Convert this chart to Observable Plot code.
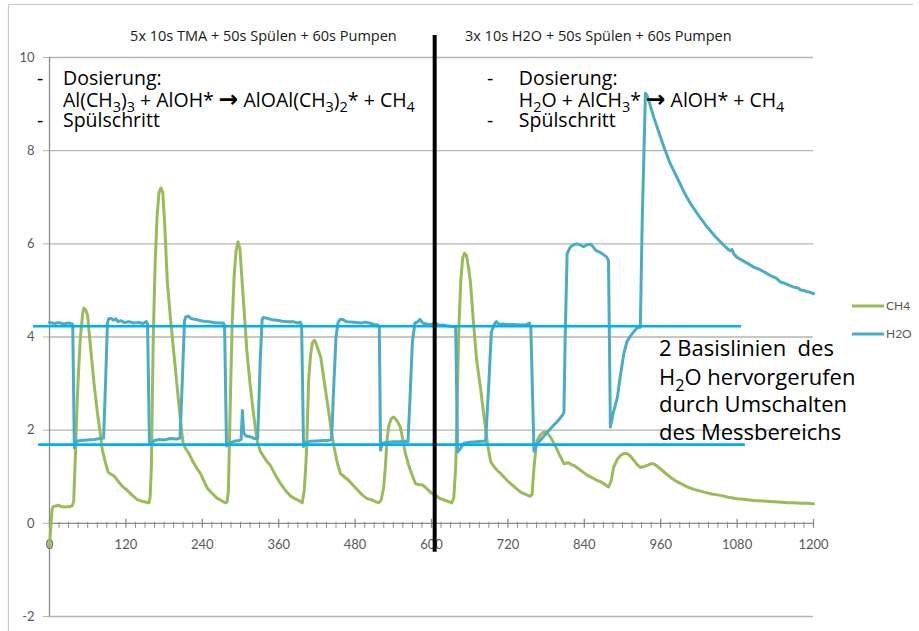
<!DOCTYPE html>
<html>
<head>
<meta charset="utf-8">
<script src="https://cdn.jsdelivr.net/npm/d3@7"></script>
<script src="https://cdn.jsdelivr.net/npm/@observablehq/plot@0.6"></script>
<style>
  html, body { margin: 0; padding: 0; background: #fff; }
  #chart svg { display: block; }
</style>
</head>
<body>
<div id="chart"></div>
<script>
// CH4 signal (time in s, signal in a.u.)
const ch4Time = [0, 2, 4, 6, 10, 14, 18, 25, 32, 36, 38, 40, 44, 48, 52, 54, 57, 60, 65, 70, 75, 80, 83, 88, 92, 96, 101, 107, 114, 122, 130, 138, 146, 156,
  158, 160, 163, 166, 169, 172, 175, 178, 181, 185, 190, 195, 200, 205, 210, 215, 219, 225, 232, 237, 242, 248, 255, 263, 270, 276,
  279, 281, 283, 285, 287, 290, 293, 296, 299, 302, 306, 310, 315, 320, 326, 331, 337, 342, 347, 355, 363, 371, 379, 387, 394, 397,
  400, 402, 404, 407, 410, 413, 416, 419, 426, 432, 439, 443, 447, 452, 457, 463, 470, 478, 485, 492, 499, 507, 513, 517,
  521, 525, 528, 530, 533, 537, 541, 546, 551, 555, 559, 564, 570, 575, 580, 585, 590, 598, 606, 614, 622, 628, 632,
  635, 638, 641, 643, 646, 649, 652, 655, 658, 661, 666, 671, 677, 682, 688, 693, 698, 703, 710, 719, 726, 733, 740, 748, 755,
  758, 761, 764, 766, 770, 775, 779, 783, 787, 793, 800, 808, 815, 820, 824, 832, 838, 845, 852, 859, 866, 872, 878,
  882, 886, 892, 898, 903, 907, 912, 918, 923, 928, 934, 940, 945, 949, 955, 962, 968, 975, 985, 995, 1002, 1012, 1020, 1028,
  1040, 1054, 1066, 1080, 1093, 1106, 1120, 1132, 1145, 1159, 1170, 1180, 1190, 1200];
const ch4Values = [-0.5, -0.1, 0.3, 0.36, 0.37, 0.39, 0.36, 0.35, 0.36, 0.38, 0.47, 1.2, 2.8, 3.9, 4.5, 4.62, 4.58, 4.45, 3.7, 3.0, 2.4, 1.9, 1.57, 1.3, 1.1, 1.06, 1.02, 0.92, 0.8, 0.71, 0.6, 0.51, 0.47, 0.44,
  0.55, 1.2, 4.0, 5.6, 6.6, 7.1, 7.2, 7.1, 6.4, 5.2, 4.4, 3.7, 3.0, 2.3, 1.7, 1.58, 1.5, 1.33, 1.17, 1.07, 0.92, 0.75, 0.65, 0.54, 0.49, 0.44,
  0.46, 0.7, 2.0, 3.2, 4.3, 5.3, 5.85, 6.04, 5.9, 5.3, 4.5, 3.7, 3.0, 2.4, 1.78, 1.55, 1.42, 1.32, 1.24, 1.03, 0.85, 0.7, 0.58, 0.52, 0.47, 0.44,
  0.7, 1.1, 1.64, 3.07, 3.6, 3.88, 3.93, 3.85, 3.57, 3.0, 2.35, 1.95, 1.64, 1.3, 1.07, 1.0, 0.92, 0.8, 0.7, 0.6, 0.53, 0.5, 0.46, 0.44,
  0.5, 0.78, 1.3, 1.78, 2.1, 2.25, 2.28, 2.2, 2.07, 1.8, 1.5, 1.25, 1.02, 0.85, 0.83, 0.83, 0.78, 0.67, 0.6, 0.53, 0.49, 0.46, 0.44,
  0.55, 1.2, 3.0, 4.2, 5.2, 5.7, 5.8, 5.75, 5.5, 5.2, 4.3, 3.5, 2.9, 2.35, 1.7, 1.32, 1.22, 1.14, 1.05, 0.92, 0.83, 0.75, 0.67, 0.62, 0.58,
  0.62, 1.2, 1.6, 1.78, 1.88, 1.95, 1.96, 1.92, 1.85, 1.7, 1.5, 1.28, 1.3, 1.26, 1.24, 1.16, 1.1, 1.03, 0.98, 0.93, 0.89, 0.84, 0.78,
  0.9, 1.2, 1.38, 1.47, 1.5, 1.5, 1.45, 1.35, 1.26, 1.2, 1.22, 1.25, 1.28, 1.28, 1.22, 1.14, 1.07, 0.99, 0.9, 0.83, 0.78, 0.73, 0.7, 0.67,
  0.63, 0.6, 0.56, 0.53, 0.51, 0.49, 0.48, 0.47, 0.46, 0.44, 0.44, 0.43, 0.43, 0.42];

// H2O signal
const h2oTime = [0, 8, 15, 22, 30, 36, 36.5, 39, 42, 50, 60, 70, 80, 85, 88, 91, 93, 97, 100, 104, 108, 112, 118, 125, 132, 140, 147, 152, 154,
  157, 160, 165, 172, 180, 190, 200, 205, 209, 212, 214, 218, 222, 228, 235, 242, 250, 258, 266, 273, 275,
  278, 282, 290, 298, 301, 303, 305, 308, 315, 322, 327, 331, 334, 336, 342, 350, 358, 366, 374, 382, 390, 394, 396,
  399, 403, 410, 420, 430, 438, 443, 446, 450, 453, 456, 460, 466, 474, 482, 490, 496, 502, 510, 516, 518,
  520, 523, 530, 540, 550, 558, 563, 566, 570, 574, 578, 582, 586, 592, 600, 606, 612, 618, 624, 630, 636, 638,
  641, 645, 651, 660, 670, 680, 685, 690, 694, 699, 702, 706, 712, 720, 730, 740, 750, 754, 756,
  761, 765, 771, 780, 790, 800, 806, 808, 810, 813, 818, 823, 829, 834, 839, 844, 850, 854, 858, 863, 868, 875, 878,
  881, 886, 892, 897, 902, 907, 913, 918, 923, 928, 931, 936, 938, 943, 949, 957, 965, 975, 988, 997, 1007, 1020, 1033, 1045,
  1059, 1066, 1070, 1072, 1075, 1080, 1090, 1098, 1106, 1115, 1122, 1127, 1135, 1142, 1148, 1155, 1162, 1169, 1176, 1180, 1185, 1190, 1195, 1200];
const h2oValues = [4.31, 4.29, 4.31, 4.28, 4.3, 4.28, 4.25, 1.62, 1.76, 1.78, 1.79, 1.8, 1.82, 1.83, 3.0, 4.3, 4.39, 4.4, 4.36, 4.39, 4.33, 4.35, 4.31, 4.33, 4.3, 4.31, 4.29, 4.33, 4.28,
  1.72, 1.72, 1.78, 1.8, 1.79, 1.82, 1.81, 1.83, 3.2, 4.35, 4.43, 4.45, 4.4, 4.38, 4.36, 4.34, 4.33, 4.31, 4.3, 4.3, 4.25,
  1.66, 1.72, 1.76, 1.78, 1.8, 2.42, 1.95, 1.88, 1.86, 1.82, 1.82, 3.5, 4.38, 4.42, 4.4, 4.37, 4.36, 4.34, 4.33, 4.33, 4.3, 4.32, 4.25,
  1.65, 1.74, 1.76, 1.77, 1.78, 1.78, 1.8, 2.8, 4.0, 4.3, 4.37, 4.38, 4.33, 4.32, 4.31, 4.3, 4.32, 4.3, 4.27, 4.26, 4.2,
  1.57, 1.72, 1.74, 1.75, 1.75, 1.76, 1.75, 2.6, 3.9, 4.3, 4.32, 4.38, 4.3, 4.28, 4.27, 4.3, 4.25, 4.26, 4.24, 4.23, 4.22, 4.2,
  1.53, 1.6, 1.72, 1.74, 1.75, 1.76, 1.76, 3.0, 4.1, 4.28, 4.33, 4.27, 4.28, 4.27, 4.27, 4.26, 4.27, 4.3, 4.2,
  1.55, 1.7, 1.78, 1.93, 2.08, 2.22, 2.33, 2.38, 4.0, 5.79, 5.93, 5.98, 6.0, 5.97, 5.94, 5.98, 5.99, 5.93, 5.86, 5.83, 5.79, 5.72, 5.64,
  2.07, 2.4, 2.71, 3.2, 3.64, 3.9, 4.03, 4.12, 4.2, 4.21, 6.5, 9.23, 9.2, 9.0, 8.72, 8.4, 8.08, 7.72, 7.36, 7.1, 6.86, 6.6, 6.36, 6.17,
  5.97, 5.88, 5.85, 5.88, 5.78, 5.71, 5.63, 5.57, 5.5, 5.45, 5.4, 5.36, 5.3, 5.26, 5.18, 5.15, 5.11, 5.07, 5.05, 5.01, 5.0, 4.97, 4.96, 4.93];

const seriesNames = ["CH4", "H2O"];
const seriesColors = ["#9BBB59", "#4BACC6"];

// Axis ticks
const xMajorTicks = [0, 120, 240, 360, 480, 600, 720, 840, 960, 1080, 1200];
const xMinorTicks = d3.range(0, 1201, 15).filter(t => t % 120 !== 0);
const yTicks = [-2, 0, 2, 4, 6, 8, 10];
const yGrid = [-2, 2, 4, 6, 8, 10];

// Two H2O baselines (measuring range switch) and the phase separator
const baselineLevels = [4.23, 1.69];
const baselineStart = [-25, -17];
const baselineEnd = [1087, 1093];
const phaseSwitchTime = 605;
const phaseSwitchSpan = [-0.62, 10.47];

// Texts
const phaseTitles = ["5x 10s TMA + 50s Spülen + 60s Pumpen", "3x 10s H2O + 50s Spülen + 60s Pumpen"];
const phaseTitleTime = [336, 862];
const phaseTitleLevel = 10.45;
const stepsTma = ["Dosierung:", "Al(CH_3)_3 + AlOH* → AlOAl(CH_3)_2* + CH_4", "Spülschritt"];
const stepsH2o = ["Dosierung:", "H_2O + AlCH_3* → AlOH* + CH_4", "Spülschritt"];
const stepLevels = [9.40, 8.93, 8.50];
const baselineNote = ["2 Basislinien  des", "H_2O hervorgerufen", "durch Umschalten", "des Messbereichs"];
const noteLevels = [3.585, 2.96, 2.38, 1.78];

const ch4Rows = ch4Time.map((t, i) => ({t, v: ch4Values[i]}));
const h2oRows = h2oTime.map((t, i) => ({t, v: h2oValues[i]}));
const baselineRows = baselineLevels.map((y, i) => ({y, x1: baselineStart[i], x2: baselineEnd[i]}));

const gridColor = "#B4B4B4";
const axisColor = "#8C8C8C";
const labelColor = "#595959";

const chart = Plot.plot({
  width: 919,
  height: 631,
  marginTop: 57,
  marginBottom: 15,
  marginLeft: 49,
  marginRight: 106,
  style: {fontFamily: "Lato, 'Open Sans', sans-serif", fontSize: "13px", background: "#fff", color: labelColor},
  x: {domain: [0, 1200], axis: null},
  y: {domain: [-2, 10], axis: null},
  marks: [
    Plot.ruleY(yGrid, {stroke: gridColor, strokeWidth: 1.3}),
    Plot.ruleX([0], {y1: -2, y2: 10, stroke: axisColor, strokeWidth: 1.3}),
    Plot.axisY({ticks: yTicks, tickSize: 6, tickPadding: 9, tickFormat: d => String(d), stroke: gridColor, fill: labelColor, fontSize: 13}),
    Plot.ruleY([0], {stroke: axisColor, strokeWidth: 1.3}),
    Plot.ruleX(xMinorTicks, {x: d => d, y1: 0, y2: 0, insetTop: -1, insetBottom: -5, stroke: axisColor, strokeWidth: 1}),
    Plot.ruleX(xMajorTicks, {x: d => d, y1: 0, y2: 0, insetTop: -4, insetBottom: -5, stroke: axisColor, strokeWidth: 1.3}),
    Plot.text(xMajorTicks, {x: d => d, y: 0, dy: 21, text: d => String(d), fill: labelColor, fontSize: 13}),
    Plot.line(ch4Rows, {x: "t", y: "v", stroke: seriesColors[0], strokeWidth: 3, strokeLinejoin: "round"}),
    Plot.line(h2oRows, {x: "t", y: "v", stroke: seriesColors[1], strokeWidth: 3, strokeLinejoin: "round"}),
    Plot.ruleY(baselineRows, {y: "y", x1: "x1", x2: "x2", stroke: "#00B0F0", strokeWidth: 2.6}),
    Plot.ruleX([phaseSwitchTime], {y1: phaseSwitchSpan[0], y2: phaseSwitchSpan[1], stroke: "#000", strokeWidth: 4}),
    Plot.text(phaseTitles, {x: (d, i) => phaseTitleTime[i], y: phaseTitleLevel, text: d => d, fill: "#1a1a1a", fontSize: 14.5, fontFamily: "'Open Sans', sans-serif"})
  ]
});

document.getElementById("chart").appendChild(chart);

const sx = chart.scale("x"), sy = chart.scale("y");
const svg = d3.select(chart);

// Text with "_n" subscripts; the reaction arrow is set in a heavier glyph
function richText(g, px, py, str, size, family) {
  const t = g.append("text")
    .attr("x", px).attr("y", py)
    .attr("font-size", size)
    .attr("font-family", family)
    .attr("text-anchor", "start")
    .attr("fill", "#000")
    .style("white-space", "pre");
  const parts = str.split(/(_\d|→)/);
  let shifted = false;
  const shift = size * 0.28;
  parts.forEach(p => {
    if (!p) return;
    if (/^_\d$/.test(p)) {
      t.append("tspan").attr("dy", shifted ? 0 : shift).attr("font-size", size * 0.74).text(p[1]);
      shifted = true;
      return;
    }
    const ts = t.append("tspan").text(p);
    if (p === "→") ts.attr("font-family", "'DejaVu Sans', sans-serif").attr("font-weight", "bold").attr("font-size", size * 1.2);
    if (shifted) { ts.attr("dy", -shift); shifted = false; }
  });
  return t;
}

const notes = svg.append("g");
const annFont = "'Open Sans', sans-serif";
function stepBlock(lines, dashT, textT) {
  lines.forEach((line, i) => {
    richText(notes, sx.apply(textT), sy.apply(stepLevels[i]), line, 19.5, annFont);
  });
  [0, 2].forEach(i => {
    notes.append("text").attr("x", sx.apply(dashT)).attr("y", sy.apply(stepLevels[i]))
      .attr("font-size", 19.5).attr("font-family", annFont).attr("text-anchor", "middle").attr("fill", "#000").text("-");
  });
}
stepBlock(stepsTma, -14, 22);
stepBlock(stepsH2o, 693, 738);
baselineNote.forEach((line, i) => {
  richText(notes, sx.apply(958), sy.apply(noteLevels[i]), line, 22, annFont);
});

// Legend
const legend = svg.append("g");
seriesNames.forEach((name, i) => {
  const y = 306 + i * 28;
  legend.append("line").attr("x1", 852).attr("x2", 884).attr("y1", y).attr("y2", y)
    .attr("stroke", seriesColors[i]).attr("stroke-width", 3);
  legend.append("text").attr("x", 886).attr("y", y).attr("dy", "0.35em").attr("text-anchor", "start")
    .attr("font-size", 12).attr("font-family", "Lato, sans-serif").attr("fill", labelColor).text(name);
});

// Chart area border
svg.append("path").attr("d", "M8.5,631 V4.5 H913").attr("fill", "none").attr("stroke", "#C8C8C8").attr("stroke-width", 1.2);
</script>
</body>
</html>
